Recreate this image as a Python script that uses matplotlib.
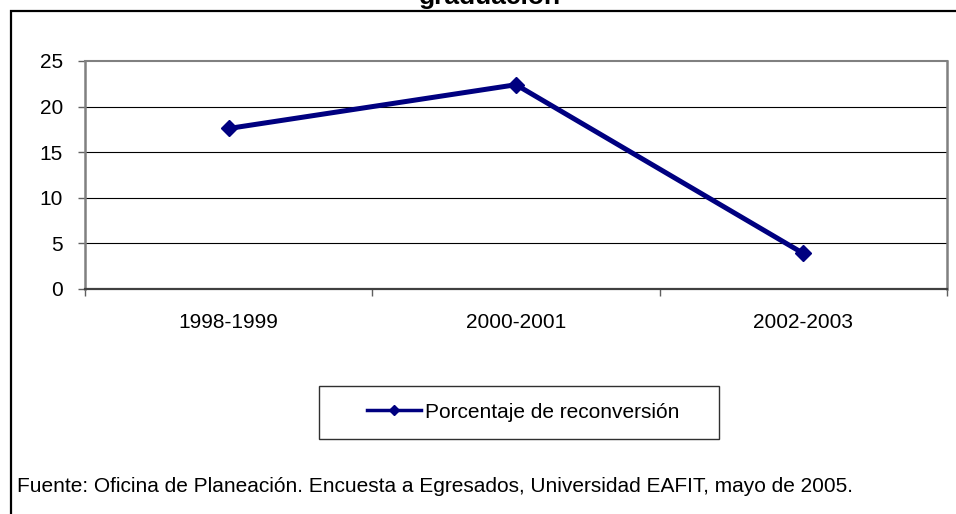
import matplotlib
matplotlib.use('Agg')
import matplotlib.pyplot as plt
from matplotlib.patches import Rectangle
from matplotlib.lines import Line2D

plt.rcParams['font.family'] = ['Liberation Sans', 'DejaVu Sans']

periodos = ['1998-1999', '2000-2001', '2002-2003']
reconversion = [17.6, 22.4, 3.9]
yticks = [0, 5, 10, 15, 20, 25]
serie = 'Porcentaje de reconversión'
titulo = 'graduación'
fuente = 'Fuente: Oficina de Planeación. Encuesta a Egresados, Universidad EAFIT, mayo de 2005.'

W, H = 956, 514
fig = plt.figure(figsize=(W / 100, H / 100), dpi=100)
azul = '#000080'

def fx(px):
    return px / W

def fy(py):
    return 1 - py / H

# marco exterior (cortado a la derecha y abajo)
fig.patches.append(Rectangle((fx(11), -0.1), 1.2, fy(11) + 0.1, transform=fig.transFigure,
                             fill=False, edgecolor='black', linewidth=1.6))

ax = fig.add_axes([fx(85), fy(289), fx(947) - fx(85), fy(61) - fy(289)])
x = list(range(len(periodos)))
ax.plot(x, reconversion, color=azul, linewidth=3.6, marker='D', markersize=8,
        clip_on=False, zorder=5)
ax.set_xlim(-0.5, len(periodos) - 0.5)
ax.set_ylim(0, 25)
ax.set_yticks(yticks)
ax.set_xticks([i - 0.5 for i in range(len(periodos) + 1)])
ax.set_xticklabels([])
ax.set_xticks(x, minor=True)
ax.set_xticklabels(periodos, minor=True)
ax.tick_params(axis='x', which='minor', length=0, pad=17, labelsize=15)
ax.tick_params(axis='x', which='major', length=5, width=1, color='#606060', direction='out')
ax.tick_params(axis='y', length=5, width=1, color='#606060', direction='out',
               labelsize=15, pad=11)
for yv in yticks[1:-1]:
    ax.axhline(yv, color='black', linewidth=0.8, zorder=0)
ax.spines['top'].set_color('#808080')
ax.spines['top'].set_linewidth(1.5)
ax.spines['right'].set_color('#808080')
ax.spines['right'].set_linewidth(1.8)
ax.spines['left'].set_color('#808080')
ax.spines['left'].set_linewidth(1.8)
ax.spines['bottom'].set_color('#404040')
ax.spines['bottom'].set_linewidth(1.6)

fig.text(fx(490), fy(4), titulo, ha='center', va='baseline',
         fontsize=19, fontweight='bold')

# leyenda con marco dibujado aparte
fig.patches.append(Rectangle((fx(319), fy(439)), fx(719) - fx(319), fy(386) - fy(439),
                             transform=fig.transFigure, fill=False,
                             edgecolor='#303030', linewidth=1))
handle = Line2D([], [], color=azul, linewidth=2.5, marker='D', markersize=5)
fig.legend([handle], [serie], loc='center', bbox_to_anchor=(fx(523), fy(412)),
           fontsize=15, frameon=False, handlelength=2.6, handletextpad=0.2,
           borderpad=0, borderaxespad=0)

fig.text(fx(17), fy(492), fuente, ha='left', va='baseline', fontsize=15)

fig.savefig('out.png', dpi=100)
